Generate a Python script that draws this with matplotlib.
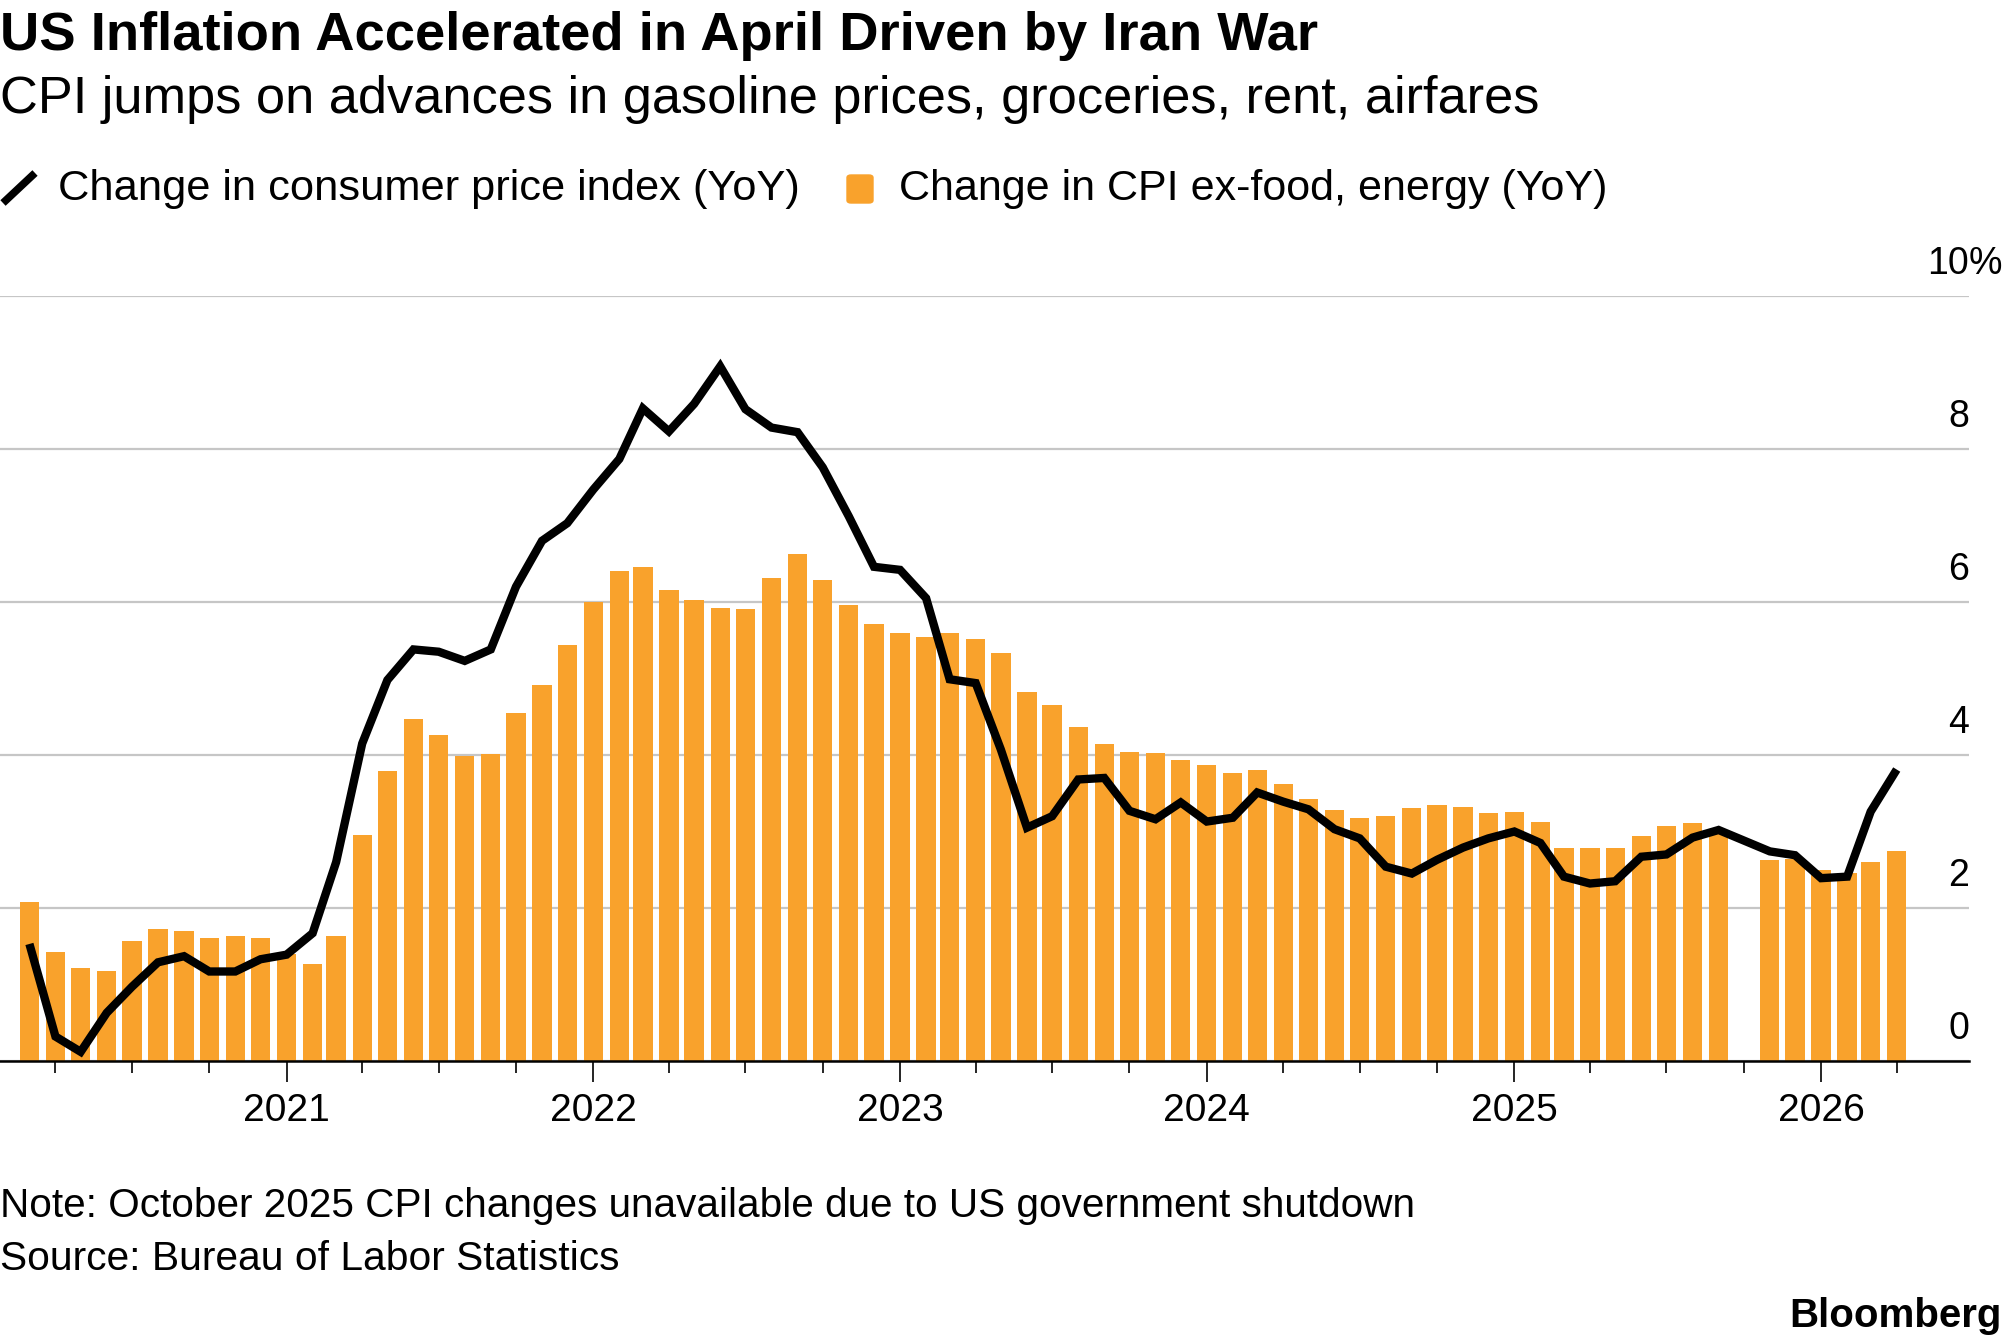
import numpy as np
import pandas as pd
import matplotlib
matplotlib.use("Agg")
import matplotlib.pyplot as plt
import matplotlib.dates as mdates
from matplotlib.lines import Line2D
from matplotlib.patches import FancyBboxPatch
from matplotlib import transforms

plt.rcParams['font.family'] = ['Liberation Sans', 'DejaVu Sans']

# ---- data (YoY %, monthly, Mar 2020 - Apr 2026; Oct 2025 missing) ----
months = pd.date_range("2020-03-01", "2026-04-01", freq="MS")

core_cpi = [
    2.08, 1.42, 1.21, 1.18, 1.57, 1.73, 1.70, 1.61, 1.63, 1.61,                 # 2020
    1.40, 1.27, 1.63, 2.95, 3.79, 4.47, 4.26, 3.99, 4.01, 4.55, 4.91, 5.44,     # 2021
    6.00, 6.40, 6.46, 6.16, 6.02, 5.92, 5.91, 6.32, 6.63, 6.29, 5.96, 5.71,     # 2022
    5.59, 5.54, 5.59, 5.52, 5.33, 4.83, 4.66, 4.36, 4.15, 4.04, 4.02, 3.94,     # 2023
    3.87, 3.76, 3.81, 3.62, 3.43, 3.28, 3.17, 3.20, 3.31, 3.34, 3.32, 3.24,     # 2024
    3.26, 3.12, 2.79, 2.78, 2.79, 2.94, 3.07, 3.11, 3.00, np.nan, 2.63, 2.64,   # 2025
    2.50, 2.46, 2.60, 2.75,                                                     # 2026
]

headline_cpi = [
    1.53, 0.32, 0.12, 0.63, 0.97, 1.29, 1.37, 1.17, 1.17, 1.33,                 # 2020
    1.39, 1.67, 2.60, 4.15, 4.98, 5.38, 5.35, 5.23, 5.38, 6.20, 6.80, 7.03,     # 2021
    7.47, 7.87, 8.53, 8.23, 8.59, 9.08, 8.52, 8.28, 8.22, 7.76, 7.12, 6.46,     # 2022
    6.42, 6.05, 4.99, 4.94, 4.07, 3.05, 3.20, 3.68, 3.70, 3.27, 3.16, 3.38,     # 2023
    3.13, 3.18, 3.51, 3.39, 3.29, 3.03, 2.91, 2.54, 2.45, 2.63, 2.79, 2.91,     # 2024
    3.00, 2.85, 2.41, 2.32, 2.35, 2.67, 2.70, 2.92, 3.02, np.nan, 2.74, 2.69,   # 2025
    2.39, 2.41, 3.26, 3.81,                                                     # 2026
]

yticks = [0, 2, 4, 6, 8, 10]
title = "US Inflation Accelerated in April Driven by Iran War"
subtitle = "CPI jumps on advances in gasoline prices, groceries, rent, airfares"
line_label = "Change in consumer price index (YoY)"
bar_label = "Change in CPI ex-food, energy (YoY)"
note = "Note: October 2025 CPI changes unavailable due to US government shutdown"
source = "Source: Bureau of Labor Statistics"

orange = "#F9A22C"
W, H = 2005, 1341

fig = plt.figure(figsize=(W / 100, H / 100), dpi=100)
fig.patch.set_facecolor("white")

def fy(px):
    # pixel from top -> figure fraction
    return 1 - px / H

ax = fig.add_axes([0, fy(1061), 1969 / W, (1061 - 296) / H])

core = np.array(core_cpi, dtype=float)
head = np.array(headline_cpi, dtype=float)
ok = ~np.isnan(head)

ax.bar(months, core, width=23, color=orange, zorder=1)
ax.plot(months[ok], head[ok], color="black", lw=6, solid_joinstyle="miter",
        solid_capstyle="butt", zorder=3)

ax.set_ylim(0, 10)
ax.set_xlim(mdates.date2num(pd.Timestamp("2020-01-26")),
            mdates.date2num(pd.Timestamp("2026-06-26")))

ax.set_yticks(yticks)
ax.yaxis.grid(True, color="#c6c6c6", lw=1.6)
ax.set_axisbelow(True)
ax.tick_params(axis="y", length=0, labelleft=False)

for s in ["top", "left", "right"]:
    ax.spines[s].set_visible(False)
ax.spines["bottom"].set_color("black")
ax.spines["bottom"].set_linewidth(1.8)

ax.xaxis.set_major_locator(mdates.YearLocator())
ax.xaxis.set_major_formatter(mdates.DateFormatter("%Y"))
ax.xaxis.set_minor_locator(mdates.MonthLocator(bymonth=[1, 4, 7, 10]))
ax.tick_params(axis="x", which="major", length=15, width=1.2, pad=8,
               labelsize=28, color="black")
ax.tick_params(axis="x", which="minor", length=8.5, width=1.2, color="black")

# y labels sit above gridlines, right-aligned at the axis edge
off = transforms.offset_copy(ax.get_yaxis_transform(), fig=fig, x=0, y=22, units="dots")
for v in yticks:
    ax.text(1.0, v, str(v), transform=off, ha="right", va="baseline",
            fontsize=27, clip_on=False)
ax.text(1.0, yticks[-1], "%", transform=off, ha="left", va="baseline",
        fontsize=27, clip_on=False)

# titles
fig.text(0, fy(50), title, fontsize=39.2, fontweight="bold", ha="left", va="baseline")
fig.text(0, fy(113), subtitle, fontsize=37.7, ha="left", va="baseline")

# legend
fig.add_artist(Line2D([3 / W, 35 / W], [fy(203), fy(173)], color="black", lw=5.5,
                      solid_capstyle="butt", transform=fig.transFigure))
fig.text(58 / W, fy(200), line_label, fontsize=31.2, ha="left", va="baseline")
fig.add_artist(FancyBboxPatch((847 / W, fy(203)), 26 / W, 28 / H,
                              boxstyle="round,pad=0,rounding_size=0.002",
                              color=orange, transform=fig.transFigure))
fig.text(899 / W, fy(200), bar_label, fontsize=31, ha="left", va="baseline")

# footer
fig.text(0, fy(1217), note, fontsize=29.2, ha="left", va="baseline")
fig.text(0, fy(1270), source, fontsize=29.3, ha="left", va="baseline")
fig.text(2002 / W, fy(1327), "Bloomberg", fontsize=29, fontweight="bold",
         ha="right", va="baseline")

fig.savefig("out.png", dpi=100)
